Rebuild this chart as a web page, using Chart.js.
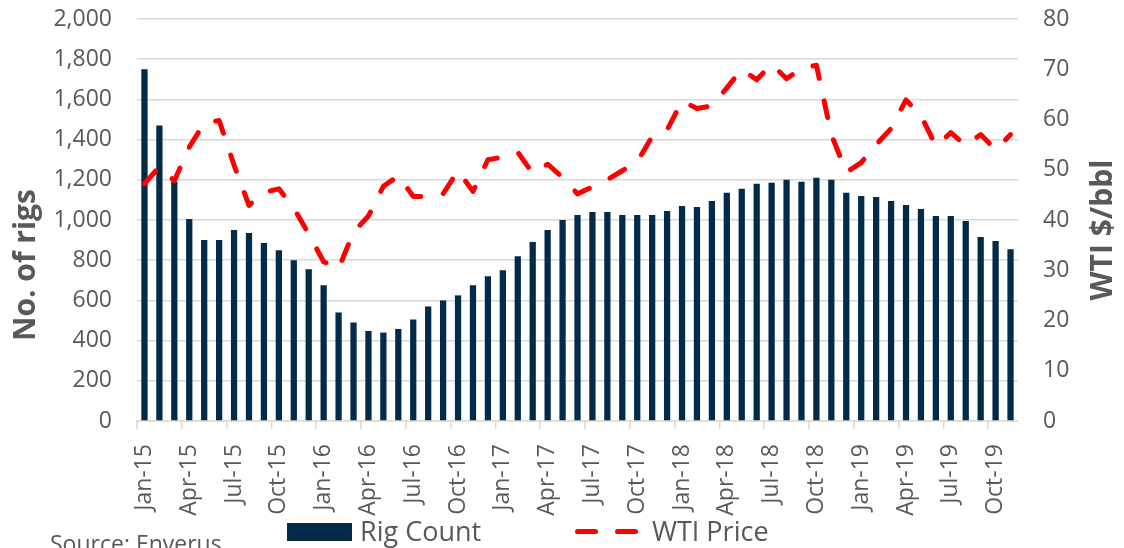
<!DOCTYPE html>
<html>
<head>
<meta charset="utf-8">
<script src="https://cdn.jsdelivr.net/npm/chart.js@4.4.0/dist/chart.umd.min.js"></script>
<style>
  html, body { margin: 0; padding: 0; background: #fff; }
</style>
</head>
<body>
<canvas id="chart" width="1124" height="548"></canvas>
<script>
// monthly categories, Jan-15 .. Nov-19
const months = [
  'Jan-15','Feb-15','Mar-15','Apr-15','May-15','Jun-15','Jul-15','Aug-15','Sep-15','Oct-15','Nov-15','Dec-15',
  'Jan-16','Feb-16','Mar-16','Apr-16','May-16','Jun-16','Jul-16','Aug-16','Sep-16','Oct-16','Nov-16','Dec-16',
  'Jan-17','Feb-17','Mar-17','Apr-17','May-17','Jun-17','Jul-17','Aug-17','Sep-17','Oct-17','Nov-17','Dec-17',
  'Jan-18','Feb-18','Mar-18','Apr-18','May-18','Jun-18','Jul-18','Aug-18','Sep-18','Oct-18','Nov-18','Dec-18',
  'Jan-19','Feb-19','Mar-19','Apr-19','May-19','Jun-19','Jul-19','Aug-19','Sep-19','Oct-19','Nov-19'
];

// rig count (left axis)
const rigCount = [
  1750, 1470, 1190, 1005, 900, 900, 950, 935, 885, 850, 800, 755,
  675, 540, 490, 448, 440, 458, 505, 570, 600, 625, 675, 720,
  750, 820, 890, 950, 1000, 1025, 1040, 1040, 1025, 1025, 1025, 1045,
  1070, 1065, 1095, 1135, 1155, 1180, 1185, 1200, 1190, 1210, 1200, 1135,
  1120, 1115, 1095, 1075, 1055, 1020, 1020, 995, 915, 895, 855
];

// WTI price $/bbl (right axis)
const wtiPrice = [
  47.2, 50.6, 47.8, 54.5, 59.3, 59.8, 50.9, 42.9, 45.5, 46.2, 42.4, 37.2,
  31.7, 30.3, 37.6, 40.8, 46.7, 48.8, 44.7, 44.7, 45.2, 49.8, 45.7, 52.0,
  52.5, 53.5, 49.3, 51.1, 48.5, 45.2, 46.6, 48.0, 49.8, 51.6, 56.6, 57.9,
  63.7, 62.2, 62.7, 66.3, 70.0, 67.9, 71.0, 68.1, 70.2, 70.8, 57.0, 49.5,
  51.4, 55.0, 58.2, 63.9, 60.8, 54.7, 57.4, 54.8, 57.0, 54.0, 57.0
];

const navy = '#022b4a';
const red = '#ff0000';
const grey = '#595959';
const gridGrey = '#d9d9d9';
const clear = 'rgba(0,0,0,0)';

Chart.defaults.font.family = '"Open Sans", sans-serif';
Chart.defaults.color = grey;

// axis titles, legend and source note drawn by hand
const extras = {
  id: 'extras',
  afterDraw(chart) {
    const ctx = chart.ctx;
    ctx.save();
    ctx.fillStyle = grey;
    ctx.textBaseline = 'alphabetic';

    // axis titles (both read bottom-to-top)
    ctx.font = 'bold 30px "Open Sans"';
    ctx.textAlign = 'center';
    ctx.save();
    ctx.translate(35, 265);
    ctx.rotate(-Math.PI / 2);
    ctx.fillText('No. of rigs', 0, 0);
    ctx.restore();
    ctx.save();
    ctx.translate(1112, 230);
    ctx.rotate(-Math.PI / 2);
    ctx.fillText('WTI $/bbl', 0, 0);
    ctx.restore();

    // legend
    ctx.textAlign = 'left';
    ctx.font = '27px "Open Sans"';
    ctx.fillStyle = navy;
    ctx.fillRect(287, 523, 65, 18);
    ctx.fillStyle = grey;
    ctx.fillText('Rig Count', 360, 541);

    ctx.strokeStyle = red;
    ctx.lineWidth = 5;
    ctx.lineCap = 'round';
    ctx.setLineDash([18, 22]);
    ctx.beginPath();
    ctx.moveTo(577.5, 531.5);
    ctx.lineTo(636, 531.5);
    ctx.stroke();
    ctx.setLineDash([]);
    ctx.fillText('WTI Price', 652, 541);

    // source note (cut off at the bottom edge)
    ctx.font = '23px "Open Sans"';
    ctx.fillText('Source: Enverus', 50, 552);
    ctx.restore();
  }
};

const ctx = document.getElementById('chart').getContext('2d');
new Chart(ctx, {
  data: {
    labels: months,
    datasets: [
      {
        type: 'line',
        label: 'WTI Price',
        data: wtiPrice,
        yAxisID: 'y1',
        borderColor: red,
        borderWidth: 5,
        borderDash: [17, 23],
        borderCapStyle: 'round',
        borderJoinStyle: 'round',
        pointRadius: 0,
        tension: 0,
        fill: false,
        order: 0
      },
      {
        type: 'bar',
        label: 'Rig Count',
        data: rigCount,
        yAxisID: 'y',
        backgroundColor: navy,
        barPercentage: 0.42,
        categoryPercentage: 1,
        order: 1
      }
    ]
  },
  options: {
    responsive: false,
    animation: false,
    layout: { padding: { top: 19, left: 0, right: 0, bottom: 0 } },
    plugins: {
      legend: { display: false },
      tooltip: { enabled: false }
    },
    scales: {
      x: {
        offset: true,
        grid: {
          offset: true,
          drawOnChartArea: false,
          drawTicks: true,
          tickLength: 8,
          lineWidth: 1.5,
          color: c => (c.index % 3 === 0 ? gridGrey : clear)
        },
        border: { color: gridGrey, width: 1.5 },
        ticks: {
          autoSkip: false,
          minRotation: 90,
          maxRotation: 90,
          padding: 15,
          font: { size: 23 },
          callback: function (v, i) { return i % 3 === 0 ? this.getLabelForValue(v) : ''; }
        },
        afterFit: s => { s.height = 127; }
      },
      // tick padding on y axes also pads the top, so use invisible tick marks for the gap
      y: {
        position: 'left',
        min: 0,
        max: 2000,
        ticks: { stepSize: 200, padding: 0, font: { size: 23 } },
        grid: { color: gridGrey, lineWidth: 1.5, drawTicks: true, tickLength: 25, tickColor: clear },
        border: { display: false },
        afterFit: s => { s.width = 137; }
      },
      y1: {
        position: 'right',
        min: 0,
        max: 80,
        ticks: { stepSize: 10, padding: 0, font: { size: 23 } },
        grid: { drawOnChartArea: false, drawTicks: true, tickLength: 25, tickColor: clear },
        border: { display: false },
        afterFit: s => { s.width = 106; }
      }
    }
  },
  plugins: [extras]
});
</script>
</body>
</html>
